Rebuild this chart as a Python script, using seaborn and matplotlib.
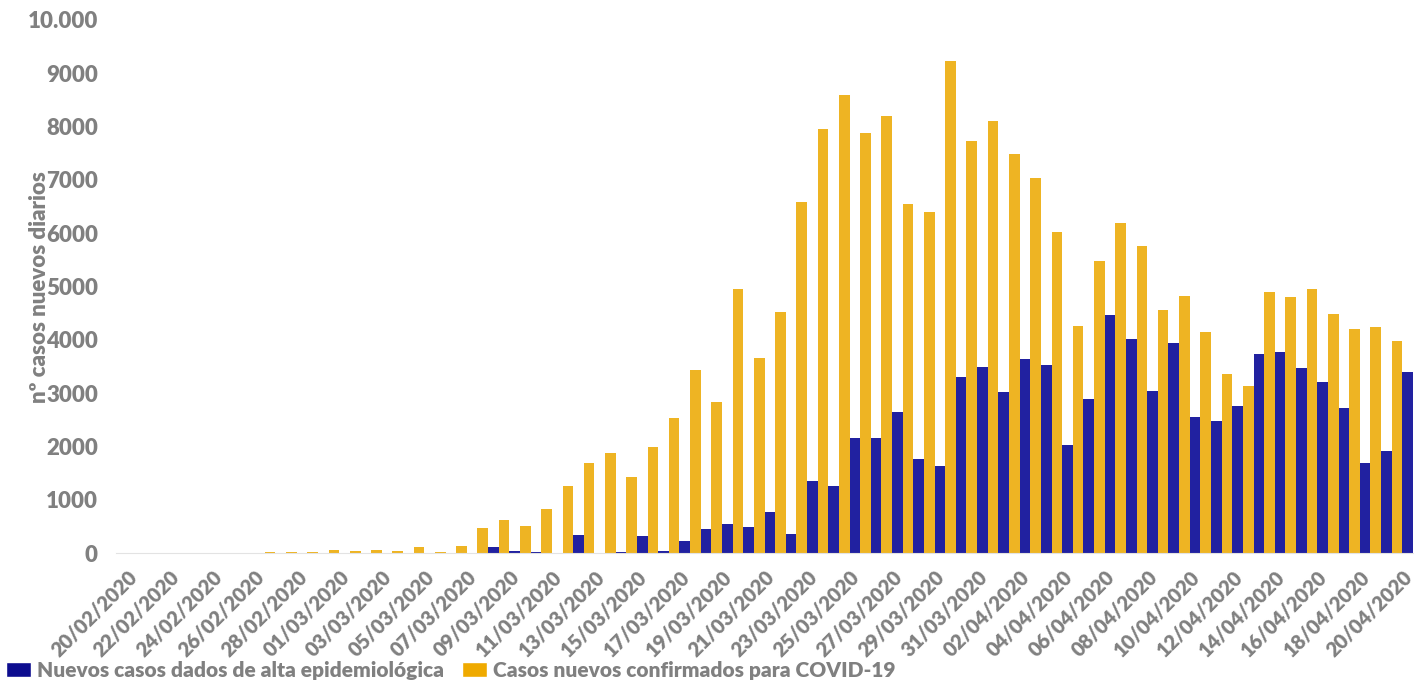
import matplotlib
matplotlib.use('Agg')
import matplotlib.pyplot as plt
from matplotlib.patches import Patch
from matplotlib.transforms import ScaledTranslation
import seaborn as sns
import pandas as pd
import numpy as np

# fechas del eje x (20/02/2020 - 20/04/2020)
fechas = [d.strftime('%d/%m/%Y') for d in pd.date_range('2020-02-20', '2020-04-20')]

# casos nuevos confirmados (barras amarillas)
confirmados = [0, 0, 0, 0, 0, 8, 8, 25, 25, 32,
               55, 45, 55, 45, 125, 19, 144, 475, 631, 506,
               831, 1263, 1694, 1881, 1425, 1994, 2544, 3438, 2838, 4950,
               3656, 4525, 6594, 7951, 8586, 7882, 8193, 6555, 6403, 9240,
               7729, 8110, 7482, 7038, 6029, 4270, 5475, 6190, 5770, 4569,
               4825, 4156, 3369, 3138, 4900, 4800, 4950, 4488, 4206, 4250,
               3975]

# nuevos casos dados de alta (barras azules)
altas = [0, 0, 0, 0, 0, 0, 0, 0, 0, 0,
         0, 0, 0, 0, 0, 0, 15, 112, 50, 19,
         5, 338, 5, 25, 325, 44, 225, 450, 556, 494,
         781, 363, 1360, 1269, 2170, 2170, 2646, 1777, 1637, 3306,
         3490, 3033, 3636, 3528, 2031, 2900, 4460, 4019, 3050, 3944,
         2563, 2481, 2756, 3744, 3775, 3475, 3213, 2719, 1688, 1925,
         3400]

y_ticks = [0, 1000, 2000, 3000, 4000, 5000, 6000, 7000, 8000, 9000, 10000]
y_tick_labels = ['0', '1000', '2000', '3000', '4000', '5000', '6000', '7000', '8000', '9000', '10.000']

SERIE_ALTAS = 'Nuevos casos dados de alta epidemiológica'
SERIE_CONF = 'Casos nuevos confirmados para COVID-19'
COLOR_ALTAS = '#2121a0'
COLOR_CONF = '#eeb423'
GRIS = '#808080'

n = len(fechas)
df = pd.DataFrame({
  'fecha': fechas * 2,
  'casos': confirmados + altas,
  'serie': [SERIE_CONF] * n + [SERIE_ALTAS] * n,
})

sns.set_style('white')
plt.rcParams['font.family'] = ['Lato', 'DejaVu Sans']
plt.rcParams['font.weight'] = 'bold'

fig = plt.figure(figsize=(14.2, 6.83), dpi=100)
ax = fig.add_axes([116 / 1420, 1 - 553.3 / 683, (1413 - 116) / 1420, (553.3 - 20) / 683])

sns.barplot(data=df, x='fecha', y='casos', hue='serie',
            hue_order=[SERIE_CONF, SERIE_ALTAS],
            palette=[COLOR_CONF, COLOR_ALTAS], saturation=1,
            width=1.0, gap=0, dodge=True, errorbar=None,
            linewidth=0, legend=False, ax=ax)

ax.set_xlim(-0.5, n - 0.5)
ax.set_ylim(0, 10000)

ax.set_xticks(range(0, n, 2))
ax.set_xticklabels(fechas[::2], rotation=45, ha='right', va='top',
                   rotation_mode='anchor', fontsize=14.5, color=GRIS, fontweight='heavy')
shift = ScaledTranslation(-6 / 72, 0, fig.dpi_scale_trans)
for lbl in ax.get_xticklabels():
  lbl.set_transform(lbl.get_transform() + shift)
ax.set_xticks(np.arange(-0.5, n, 1), minor=True)
ax.tick_params(axis='x', which='major', length=0, pad=10)
ax.tick_params(axis='x', which='minor', length=6, color='#e3e3e3', width=1)

ax.set_yticks(y_ticks)
ax.set_yticklabels(y_tick_labels, fontsize=16, color=GRIS, fontweight='heavy')
ax.tick_params(axis='y', length=0, pad=13)

ax.set_xlabel('')
ax.set_ylabel('nº casos nuevos diarios', fontsize=16, color=GRIS, fontweight='heavy')
ax.yaxis.set_label_coords(-0.0586, 0.5)
ax.yaxis.label.set_va('center')

for side in ['top', 'right', 'left']:
  ax.spines[side].set_visible(False)
ax.spines['bottom'].set_color('#e3e3e3')

handles = [Patch(facecolor='#0d0d8f', label=SERIE_ALTAS),
           Patch(facecolor='#efaa00', label=SERIE_CONF)]
fig.legend(handles=handles, loc='center left', bbox_to_anchor=(6 / 1420, 13 / 683), ncol=2,
           frameon=False, labelcolor=GRIS, prop={'weight': 'heavy', 'size': 15},
           handlelength=1.2, handleheight=0.75, handletextpad=0.3, columnspacing=0.85,
           borderpad=0, borderaxespad=0)

fig.savefig('out.png', dpi=100)
